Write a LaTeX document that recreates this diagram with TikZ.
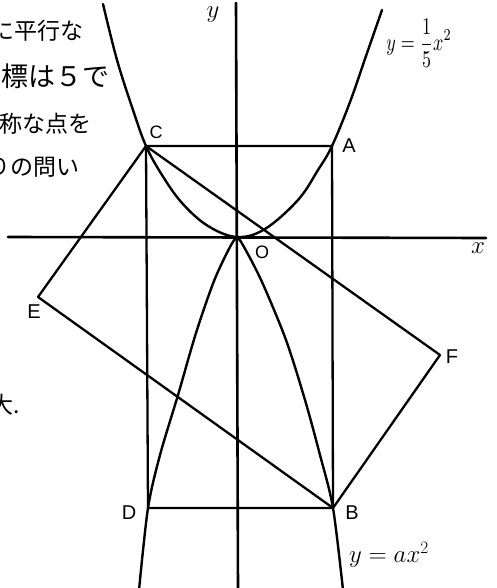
\documentclass[tikz,border=0pt]{standalone}
\usepackage{fontspec}
\setmainfont{Liberation Sans}
\newfontfamily\jp{Noto Sans CJK JP}
\begin{document}
\begin{tikzpicture}[x=1pt,y=-1pt,line join=round,line cap=round,
  edge/.style={line width=2.3pt},
  axis/.style={line width=2.6pt},
  curve/.style={line width=2.4pt},
  lab/.style={font=\fontsize{20}{20}\selectfont,inner sep=0pt},
  mlab/.style={inner sep=0pt},
  jtext/.style={inner sep=0pt,anchor=east}]
\useasboundingbox (0,0) rectangle (497,588);
\clip (0,0) rectangle (497,588);
% texts on the left (cut by the page edge, as in the reference)
\node[jtext,font=\jp\fontsize{23}{23}\selectfont] (t1) at (84,31) {に平行な};
\node[jtext,font=\jp\fontsize{27}{27}\selectfont] (t2) at (110,76) {標は５で};
\node[jtext,font=\jp\fontsize{23}{23}\selectfont] (t3) at (92,124) {称な点を};
\node[jtext,font=\jp\fontsize{23}{23}\selectfont] (t4) at (80,167) {りの問い};
\node[jtext,font=\jp\fontsize{23}{23}\selectfont] (t5) at (20,405) {大.};
% points
\coordinate (O) at (237,237);
\coordinate (C) at (146,146);
\coordinate (A) at (332,146);
\coordinate (D) at (148,508);
\coordinate (B) at (333,508);
\coordinate (E) at (38,297);
\coordinate (F) at (440,355);
\coordinate (xl) at (8,237);
\coordinate (xr) at (486,238);
\coordinate (yt) at (236,3);
\coordinate (yb) at (238,590);
% axes
\draw[axis] (xl) -- (xr);
\draw[axis] (yt) -- (yb);
% upper parabola y = x^2/5
\draw[curve] plot[smooth,tension=0.6] coordinates {(103,4) (117,60) (133,110) (146,146) (162,175) (182,203) (208,226) (237,237) (265,229) (298,200) (318,170) (332,146) (350,102) (366,56) (382,10)};
% lower parabola y = a x^2
\draw[curve] plot[smooth,tension=0.5] coordinates {(139,590) (148,508) (160,455) (178,395) (196,333) (214,281) (230,247) (237,238) (244,247) (262,282) (286,340) (305,400) (320,455) (333,508) (343,590)};
% rectangle ABDC
\draw[edge] (C) -- (A) -- (B) -- (D) -- cycle;
% rectangle CEBF
\draw[edge] (C) -- (E) -- (B) -- (F) -- cycle;
% labels
\node[lab] (lA) at (349,146) {A};
\node[lab,font=\fontsize{18}{18}\selectfont] (lC) at (156,132) {C};
\node[lab] (lD) at (129,513) {D};
\node[lab] (lB) at (352,513) {B};
\node[lab] (lE) at (34,312) {E};
\node[lab] (lF) at (452,357) {F};
\node[lab,font=\fontsize{18}{18}\selectfont] (lO) at (262,252) {O};
\node[mlab,font=\fontsize{26}{26}\selectfont] (lx) at (478,248) {$x$};
\node[mlab,font=\fontsize{24}{24}\selectfont] (ly) at (213,15) {$y$};
\node[mlab] (eq1) at (419,43) {\scalebox{1.8}[2.4]{$y=\displaystyle\frac{1}{5}x^2$}};
\node[mlab,font=\fontsize{24}{24}\selectfont] (eq2) at (389,555) {$y=ax^2$};
\end{tikzpicture}
\end{document}
